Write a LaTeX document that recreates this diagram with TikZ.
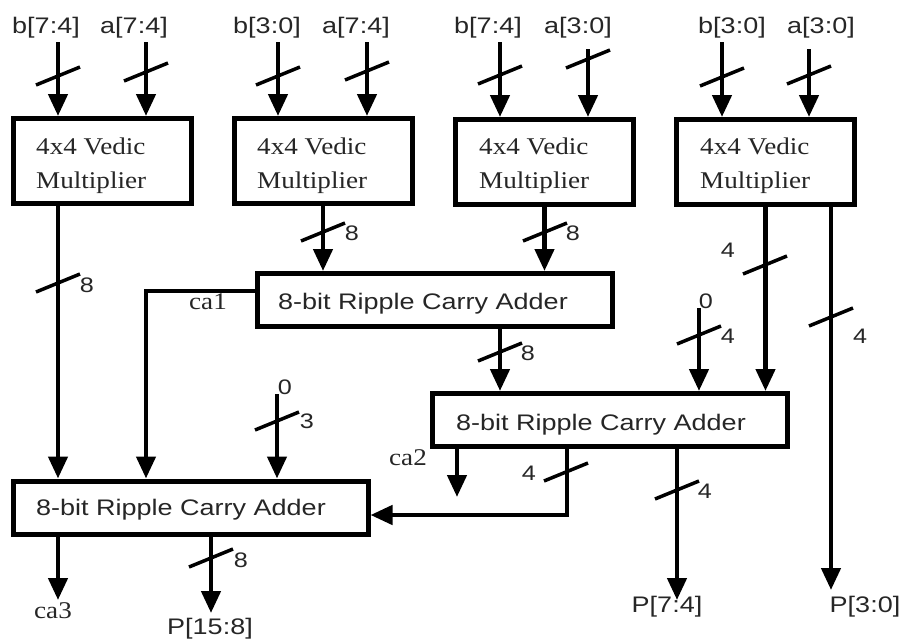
\documentclass[tikz,border=0pt]{standalone}
\usepackage{fontspec}
\setmainfont{Liberation Serif}[FakeStretch=1.13]
\setsansfont{Liberation Sans}[FakeStretch=1.2]
\usetikzlibrary{arrows.meta,calc}
\newcommand\mysans{\sffamily\fontsize{22.5}{27}\selectfont}
\newcommand\mydig{\sffamily\fontsize{21}{25}\selectfont}
\newcommand\myserif{\rmfamily\fontsize{24}{29}\selectfont}
\begin{document}
\begin{tikzpicture}[x=1pt,y=-1pt,
  wire/.style={line width=4.5pt},
  arr/.style={wire,-{Triangle[length=22pt,width=19pt]}},
  multbox/.style={draw,line width=5pt,minimum width=178pt,minimum height=85pt,inner sep=0pt},
  adderbox/.style={draw,line width=5pt,minimum width=355pt,minimum height=53pt,inner sep=0pt},
  mtext/.style={font=\myserif,inner sep=0pt,anchor=base west,text=black!85},
  atext/.style={font=\mysans,inner sep=0pt,anchor=base west,text=black!85},
  lbl/.style={font=\mysans,inner sep=0pt,anchor=base,text=black!85},
  dig/.style={font=\mydig,inner sep=0pt,anchor=base,text=black!85},
  slbl/.style={font=\myserif,inner sep=0pt,anchor=base,text=black!85},
  busmark/.pic={\draw[line width=3.5pt] (-22,9) -- (22,-9);}
]
\useasboundingbox[fill=white] (0,0) rectangle (903,638);

% multiplier boxes
\node[multbox] (m1) at (102,161) {};
\node[multbox] (m2) at (323,161) {};
\node[multbox] (m3) at (544.5,162) {};
\node[multbox] (m4) at (765.5,162) {};
\foreach \n/\x in {m1/36,m2/257,m3/479,m4/700}{
  \node[mtext] (\n t1) at (\x,154) {4x4 Vedic};
  \node[mtext] (\n t2) at (\x,188) {Multiplier};
}

% adders
\node[adderbox] (a1) at (434.5,300) {};
\node[adderbox] (a2) at (610,420) {};
\node[adderbox] (a3) at (190.5,507.5) {};
\node[atext] (a1t) at (278,309) {8-bit Ripple Carry Adder};
\node[atext] (a2t) at (456,430) {8-bit Ripple Carry Adder};
\node[atext] (a3t) at (36,515) {8-bit Ripple Carry Adder};

% input labels
\node[lbl] (l1a) at (46,33) {b[7:4]};
\node[lbl] (l1b) at (134,33) {a[7:4]};
\node[lbl] (l2a) at (267,33) {b[3:0]};
\node[lbl] (l2b) at (356,33) {a[7:4]};
\node[lbl] (l3a) at (488,33) {b[7:4]};
\node[lbl] (l3b) at (578,33) {a[3:0]};
\node[lbl] (l4a) at (732,33) {b[3:0]};
\node[lbl] (l4b) at (821,33) {a[3:0]};

% input start points
\coordinate (i1a) at (58,42);
\coordinate (i1b) at (146,42);
\coordinate (i2a) at (278,42);
\coordinate (i2b) at (367,42);
\coordinate (i3a) at (500,42);
\coordinate (i3b) at (588,49);
\coordinate (i4a) at (722,42);
\coordinate (i4b) at (809,49);
\draw[arr] (i1a) -- (i1a |- m1.north);
\draw[arr] (i1b) -- (i1b |- m1.north);
\draw[arr] (i2a) -- (i2a |- m2.north);
\draw[arr] (i2b) -- (i2b |- m2.north);
\draw[arr] (i3a) -- (i3a |- m3.north);
\draw[arr] (i3b) -- (i3b |- m3.north);
\draw[arr] (i4a) -- (i4a |- m4.north);
\draw[arr] (i4b) -- (i4b |- m4.north);
\pic at (58,76) {busmark};
\pic at (146,72) {busmark};
\pic at (278,76) {busmark};
\pic at (367,71) {busmark};
\pic at (500,75) {busmark};
\pic at (588,59) {busmark};
\pic at (722,77) {busmark};
\pic at (809,75) {busmark};

% multiplier outputs
\draw[arr] (m1.south -| i1a) -- (i1a |- a3.north);
\pic at (58,283) {busmark};
\node[dig] (d1) at (87,292) {8};

\draw[arr] (m2.south) -- (m2.south |- a1.north);
\pic at (323,232) {busmark};
\node[dig] (d2) at (352,240) {8};

\draw[arr] (m3.south) -- (m3.south |- a1.north);
\pic at (545,232) {busmark};
\node[dig] (d3) at (573,240) {8};

\draw[arr] (m4.south) -- (m4.south |- a2.north);
\pic at (765,265) {busmark};
\node[dig] (d4) at (728,257) {4};

\coordinate (p30) at (831,590);
\draw[arr] (m4.south -| p30) -- (p30);
\pic at (831,317) {busmark};
\node[dig] (d5) at (860,343) {4};
\node[lbl] (lp30) at (865,612) {P[3:0]};

% adder 1 outputs
\draw[arr] ([yshift=9pt]a1.west) -| (i1b |- a3.north);
\node[slbl] (ca1) at (208,309) {ca1};
\draw[arr] (a1.south -| i3a) -- (i3a |- a2.north);
\pic at (500,352) {busmark};
\node[dig] (d6) at (528,360) {8};

% constant 0 into adder 2
\node[dig] (z2) at (706,308) {0};
\coordinate (z2s) at (699,308);
\draw[arr] (z2s) -- (z2s |- a2.north);
\pic at (699,335) {busmark};
\node[dig] (d7) at (728,343) {4};

% constant 0 into adder 3
\node[dig] (z3) at (285,394) {0};
\coordinate (z3s) at (277,394);
\draw[arr] (z3s) -- (z3s |- a3.north);
\pic at (277,421) {busmark};
\node[dig] (d8) at (307,428) {3};

% adder 2 outputs
\coordinate (ca2e) at (457,497);
\draw[arr] (a2.south -| ca2e) -- (ca2e);
\node[slbl] (ca2) at (408,465) {ca2};
\coordinate (s2c) at (567,515);
\draw[arr] (a2.south -| s2c) -- (s2c) -- (s2c -| a3.east);
\pic at (566,472) {busmark};
\node[dig] (d9) at (529,480) {4};
\coordinate (p74) at (677,600);
\draw[arr] (a2.south -| p74) -- (p74);
\pic at (677,490) {busmark};
\node[dig] (d10) at (705,498) {4};
\node[lbl] (lp74) at (667,612) {P[7:4]};

% adder 3 outputs
\coordinate (ca3e) at (58,600);
\draw[arr] (a3.south -| ca3e) -- (ca3e);
\node[slbl] (ca3) at (53,618) {ca3};
\coordinate (p158) at (211,613);
\draw[arr] (a3.south -| p158) -- (p158);
\pic at (211,558) {busmark};
\node[dig] (d11) at (241,567) {8};
\node[lbl] (lp158) at (210,634) {P[15:8]};
\end{tikzpicture}
\end{document}
